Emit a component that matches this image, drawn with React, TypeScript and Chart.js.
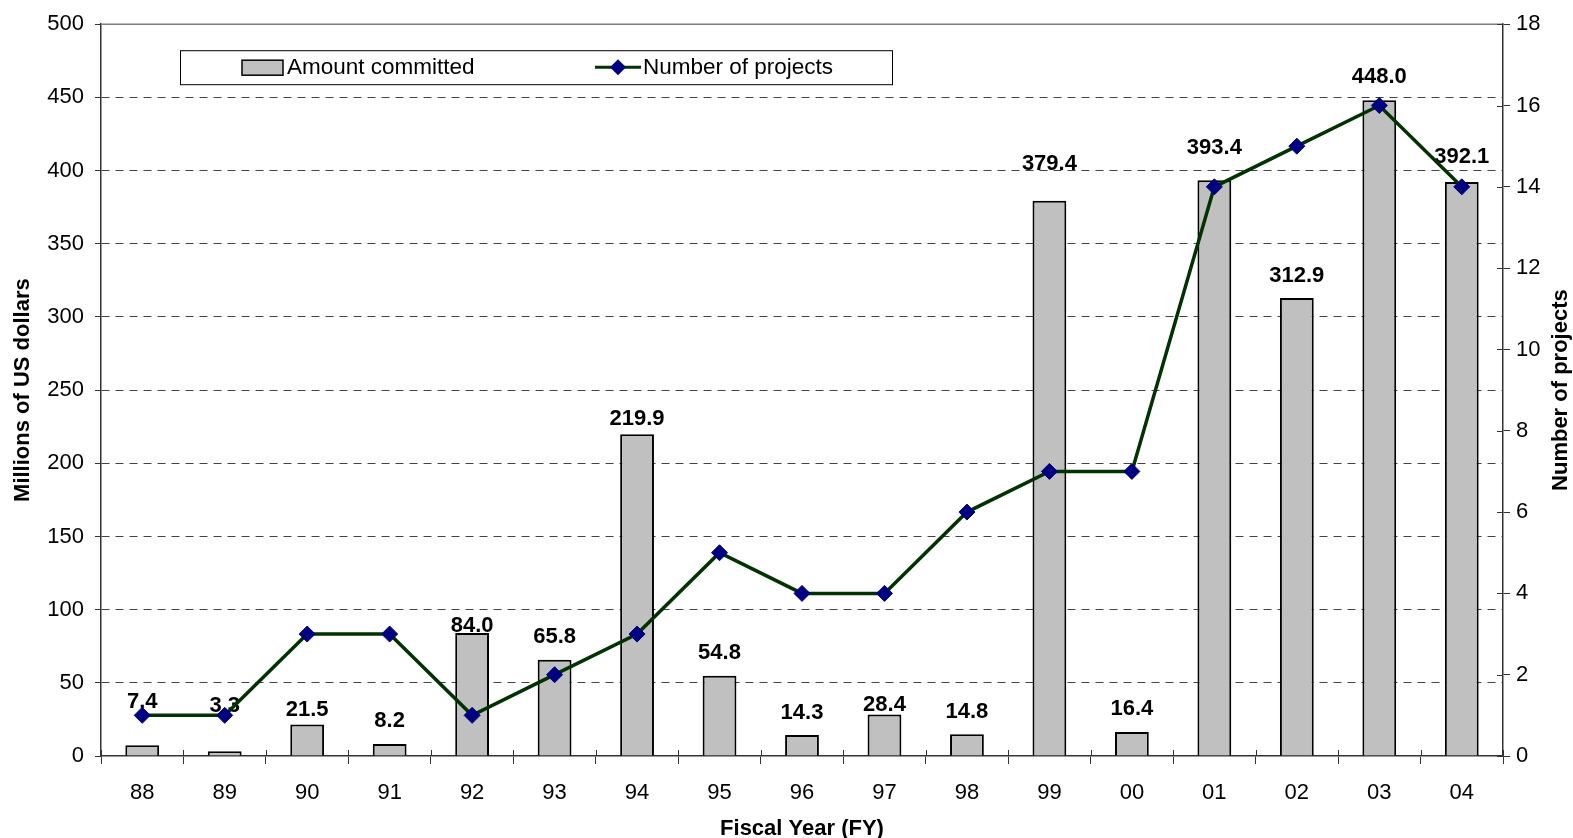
import React, { useEffect, useRef } from 'react';
import { Chart, registerables } from 'chart.js';

Chart.register(...registerables);

// ---- Data ----
const fiscalYears = ['88', '89', '90', '91', '92', '93', '94', '95', '96', '97', '98', '99', '00', '01', '02', '03', '04'];
const amountCommitted = [7.4, 3.3, 21.5, 8.2, 84.0, 65.8, 219.9, 54.8, 14.3, 28.4, 14.8, 379.4, 16.4, 393.4, 312.9, 448.0, 392.1];
const numberOfProjects = [1, 1, 3, 3, 1, 2, 3, 5, 4, 4, 6, 7, 7, 14, 15, 16, 14];
const amountAxis = { min: 0, max: 500, step: 50 };
const projectAxis = { min: 0, max: 18, step: 2 };
const seriesNames = ['Amount committed', 'Number of projects'];
const axisTitles = { x: 'Fiscal Year (FY)', left: 'Millions of US dollars', right: 'Number of projects' };

// ---- Styling (label placement, in pixels above each bar top) ----
const labelLift = [43, 45, 15, 23, 7, 23, 15, 23, 22, 9, 22, 37, 23, 32, 22, 23, 25];

const FONT = "'Liberation Sans', Arial, Helvetica, sans-serif";
const FS = 22;
const BAR_FILL = '#c0c0c0';
const LINE_COLOR = '#003300';
const POINT_COLOR = '#000080';
const AXIS_COLOR = '#333333';

const BAR_INDEX = 1;

const decorations = {
  id: 'decorations',
  afterDatasetDraw(chart: any, args: any) {
    if (args.index !== BAR_INDEX) return;
    const ctx = chart.ctx;
    const meta = chart.getDatasetMeta(BAR_INDEX);
    ctx.save();
    ctx.font = `bold ${FS}px ${FONT}`;
    ctx.fillStyle = '#000';
    ctx.textAlign = 'center';
    ctx.textBaseline = 'middle';
    meta.data.forEach((el: any, i: number) => {
      ctx.fillText(amountCommitted[i].toFixed(1), el.x, el.y - labelLift[i]);
    });
    ctx.restore();
  },
  afterDraw(chart: any) {
    const { ctx, chartArea: ca } = chart;
    ctx.save();
    // top border of plot area
    ctx.strokeStyle = '#808080';
    ctx.lineWidth = 1.5;
    ctx.beginPath();
    ctx.moveTo(ca.left, ca.top);
    ctx.lineTo(ca.right, ca.top);
    ctx.stroke();

    // inner halves of crossing tick marks (x axis and right axis)
    ctx.strokeStyle = AXIS_COLOR;
    ctx.lineWidth = 1;
    const n = fiscalYears.length;
    const cw = (ca.right - ca.left) / n;
    ctx.beginPath();
    for (let i = 0; i <= n; i++) {
      const x = Math.round(ca.left + i * cw) + 0.5;
      ctx.moveTo(x, ca.bottom);
      ctx.lineTo(x, ca.bottom - 6);
    }
    const y1 = chart.scales.y1;
    for (let v = projectAxis.min; v <= projectAxis.max; v += projectAxis.step) {
      const y = Math.round(y1.getPixelForValue(v)) + 0.5;
      ctx.moveTo(ca.right, y);
      ctx.lineTo(ca.right - 6, y);
    }
    ctx.stroke();

    // axis titles
    ctx.fillStyle = '#000';
    ctx.font = `bold ${FS}px ${FONT}`;
    ctx.textAlign = 'center';
    ctx.textBaseline = 'middle';
    const cy = (ca.top + ca.bottom) / 2;
    ctx.fillText(axisTitles.x, (ca.left + ca.right) / 2, ca.bottom + 73);
    ctx.save();
    ctx.translate(23, cy);
    ctx.rotate(-Math.PI / 2);
    ctx.fillText(axisTitles.left, 0, 0);
    ctx.restore();
    ctx.save();
    ctx.translate(ca.right + 58, cy);
    ctx.rotate(-Math.PI / 2);
    ctx.fillText(axisTitles.right, 0, 0);
    ctx.restore();

    // legend
    const lx = ca.left + 79;
    const ly = ca.top + 26;
    const lw = 712;
    const lh = 34;
    ctx.fillStyle = '#fff';
    ctx.fillRect(lx, ly, lw, lh);
    ctx.strokeStyle = '#000';
    ctx.lineWidth = 1;
    ctx.strokeRect(lx + 0.5, ly + 0.5, lw, lh);
    const my = ly + lh / 2;
    // bar swatch
    ctx.fillStyle = BAR_FILL;
    ctx.fillRect(lx + 62, my - 7, 41, 15);
    ctx.strokeStyle = '#000';
    ctx.lineWidth = 1.5;
    ctx.strokeRect(lx + 62, my - 7, 41, 15);
    ctx.fillStyle = '#000';
    ctx.font = `${FS + 0.5}px ${FONT}`;
    ctx.textAlign = 'left';
    ctx.textBaseline = 'middle';
    ctx.fillText(seriesNames[0], lx + 107, my + 1);
    // line swatch
    ctx.strokeStyle = LINE_COLOR;
    ctx.lineWidth = 3;
    ctx.beginPath();
    ctx.moveTo(lx + 415, my);
    ctx.lineTo(lx + 461, my);
    ctx.stroke();
    ctx.fillStyle = POINT_COLOR;
    ctx.beginPath();
    const dx = lx + 438;
    ctx.moveTo(dx, my - 8);
    ctx.lineTo(dx + 8, my);
    ctx.lineTo(dx, my + 8);
    ctx.lineTo(dx - 8, my);
    ctx.closePath();
    ctx.fill();
    ctx.fillStyle = '#000';
    ctx.fillText(seriesNames[1], lx + 463, my + 1);
    ctx.restore();
  },
};

export default function App() {
  const ref = useRef<HTMLCanvasElement>(null);

  useEffect(() => {
    const chart = new Chart(ref.current as HTMLCanvasElement, {
      type: 'bar',
      data: {
        labels: fiscalYears,
        datasets: [
          {
            type: 'line',
            label: seriesNames[1],
            data: numberOfProjects,
            yAxisID: 'y1',
            borderColor: LINE_COLOR,
            borderWidth: 3.5,
            tension: 0,
            pointStyle: 'rectRot',
            pointRadius: 8,
            pointBackgroundColor: POINT_COLOR,
            pointBorderColor: POINT_COLOR,
            pointBorderWidth: 1,
            order: 1,
          } as any,
          {
            type: 'bar',
            label: seriesNames[0],
            data: amountCommitted,
            yAxisID: 'y',
            backgroundColor: BAR_FILL,
            borderColor: '#000',
            borderWidth: 2,
            categoryPercentage: 1,
            barPercentage: 0.41,
            order: 2,
          } as any,
        ],
      },
      options: {
        responsive: false,
        animation: false,
        devicePixelRatio: 1,
        layout: { padding: { top: 22, left: 0, right: 0, bottom: 0 } },
        plugins: {
          legend: { display: false },
          tooltip: { enabled: false },
          title: { display: false },
        },
        scales: {
          x: {
            grid: {
              offset: true,
              drawOnChartArea: false,
              drawTicks: true,
              tickLength: 8,
              tickColor: AXIS_COLOR,
              tickWidth: 1,
            },
            border: { display: true, color: AXIS_COLOR, width: 1.5 },
            ticks: { color: '#000', font: { size: FS, family: FONT }, padding: 16, maxRotation: 0, autoSkip: false },
            afterFit: (s: any) => { s.height = 82; },
          },
          y: {
            position: 'left',
            min: amountAxis.min,
            max: amountAxis.max,
            ticks: { stepSize: amountAxis.step, color: '#000', font: { size: FS, family: FONT }, padding: 11 },
            grid: {
              color: (c: any) => (c.tick && (c.tick.value === amountAxis.min || c.tick.value === amountAxis.max)) ? 'rgba(0,0,0,0)' : '#444',
              lineWidth: 1,
              tickLength: 6,
              tickColor: AXIS_COLOR,
              tickBorderDash: [],
            },
            border: { display: true, color: AXIS_COLOR, width: 1.5, dash: [8, 6] },
            afterFit: (s: any) => { s.width = 101; },
          },
          y1: {
            position: 'right',
            min: projectAxis.min,
            max: projectAxis.max,
            ticks: { stepSize: projectAxis.step, color: '#000', font: { size: FS, family: FONT }, padding: 6 },
            grid: { drawOnChartArea: false, tickLength: 7, tickColor: AXIS_COLOR },
            border: { display: true, color: AXIS_COLOR, width: 1.5 },
            afterFit: (s: any) => { s.width = 70; },
          },
        },
      } as any,
      plugins: [decorations],
    });
    return () => chart.destroy();
  }, []);

  return (
    <div style={{ position: 'absolute', left: 0, top: 0, width: 1573, height: 838, background: '#fff' }}>
      <canvas ref={ref} width={1573} height={838} style={{ display: 'block' }} />
    </div>
  );
}
